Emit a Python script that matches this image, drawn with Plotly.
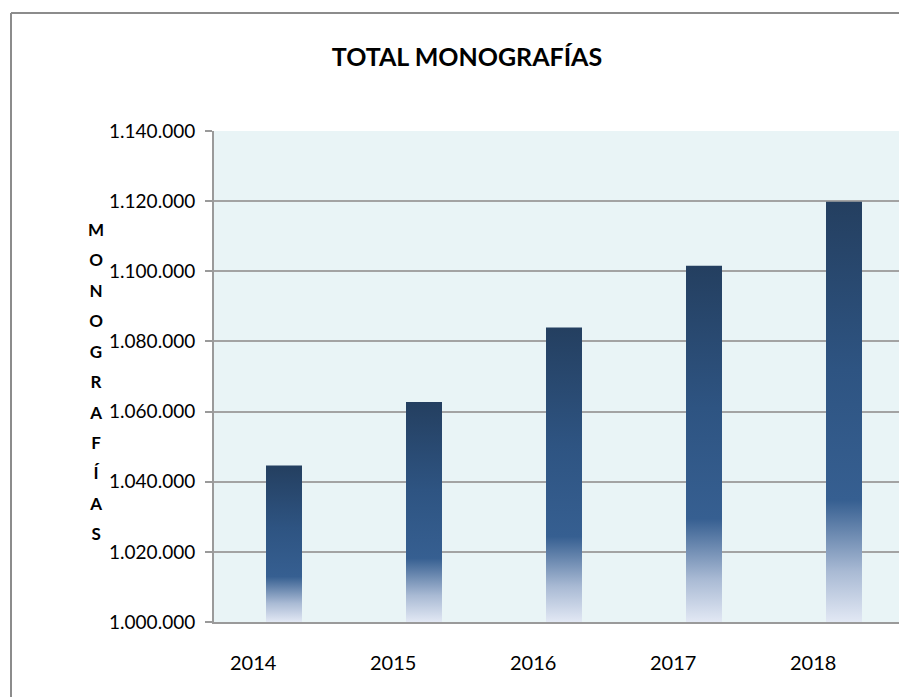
import plotly.graph_objects as go

# ---- data ----
years = ["2014", "2015", "2016", "2017", "2018"]
totals = [1044600, 1062700, 1084000, 1101600, 1119800]
y_base = 1000000
y_ticks = [1000000, 1020000, 1040000, 1060000, 1080000, 1100000, 1120000, 1140000]
axis_letters = list("MONOGRAFÍAS")

# ---- style ----
FONT = "Lato, 'Open Sans', 'DejaVu Sans', sans-serif"
W, H = 912, 697               # slightly wider than the window: chart is cut at the right edge
L, T, B = 214, 131, 697 - 622
PW, PH = W - L, H - T - B
half_w = 0.1286
label_shift = -0.22
grad = [[0.0, "#E2E8F4"], [0.12, "#A9BAD4"], [0.29, "#365F91"], [0.6, "#2E5482"], [1.0, "#243F60"]]

def px_x(p):   # page x -> paper x
    return (p - L) / PW

def px_y(p):   # page y -> paper y
    return (H - B - p) / PH

fig = go.Figure()
for i, v in enumerate(totals):
    fig.add_trace(go.Scatter(
        x=[i - half_w, i + half_w, i + half_w, i - half_w, i - half_w],
        y=[y_base, y_base, v, v, y_base],
        mode="lines",
        fill="toself",
        fillgradient=dict(type="vertical", colorscale=grad),
        line=dict(width=0, color="rgba(0,0,0,0)"),
        hoverinfo="text",
        text=f"{years[i]}: {v}",
        showlegend=False,
    ))

# border of the chart area (top and left edges visible in the picture)
border = dict(color="#8C8C8C", width=2)
fig.add_shape(type="line", xref="paper", yref="paper",
              x0=px_x(11), x1=px_x(930), y0=px_y(13), y1=px_y(13), line=border, layer="below")
fig.add_shape(type="line", xref="paper", yref="paper",
              x0=px_x(11), x1=px_x(11), y0=px_y(13), y1=px_y(720), line=border, layer="below")

# vertical axis title, one letter per line
fig.add_annotation(
    xref="paper", yref="paper", x=px_x(96), y=px_y(381),
    xanchor="center", yanchor="middle", showarrow=False,
    text="<br>".join(f"<span style='font-size:17px'><b>{c}</b></span>" for c in axis_letters),
    font=dict(family=FONT, size=23.4, color="#000000"), align="center",
)

fig.update_layout(
    width=W, height=H,
    margin=dict(l=L, r=0, t=T, b=B),
    paper_bgcolor="white",
    plot_bgcolor="#E9F4F6",
    separators=",.",
    font=dict(family=FONT, color="#000000"),
    title=dict(text="<b>TOTAL MONOGRAFÍAS</b>", x=467 / W, xanchor="center",
               y=1 - 57 / H, yanchor="middle", xref="container", yref="container",
               font=dict(family=FONT, size=25, color="#000000")),
    xaxis=dict(
        range=[-0.5, -0.5 + PW / 140], tickmode="array",
        tickvals=[i + label_shift for i in range(len(years))], ticktext=years,
        showgrid=False, zeroline=False, showline=True, linecolor="#9A9A9A", linewidth=2,
        ticks="", tickfont=dict(size=20, family=FONT), ticklabelstandoff=22,
    ),
    yaxis=dict(
        range=[y_base, 1140000], tickmode="array", tickvals=y_ticks,
        tickformat=",d", showgrid=True, gridcolor="#A3A3A3", gridwidth=2,
        zeroline=False, showline=True, linecolor="#9A9A9A", linewidth=2,
        ticks="outside", ticklen=7, tickcolor="#9A9A9A", tickwidth=2,
        tickfont=dict(size=19, family=FONT), ticklabelstandoff=6,
    ),
)

fig.write_html(
    "out.html",
    config={"displayModeBar": False},
    post_script="document.body.style.margin='0';document.body.style.overflow='hidden';",
)
